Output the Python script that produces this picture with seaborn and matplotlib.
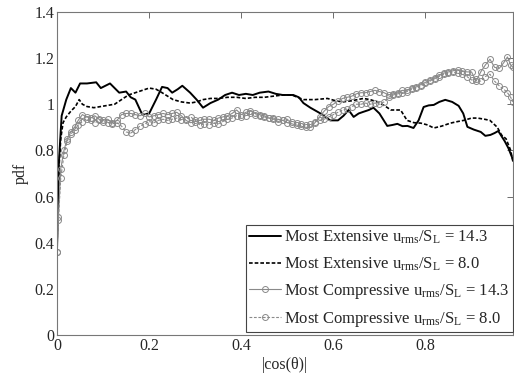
import numpy as np
import pandas as pd
import matplotlib
matplotlib.use("Agg")
import matplotlib.pyplot as plt
import seaborn as sns

# Most Extensive, u_rms/S_L = 14.3
ext14_x = [0, 0.004, 0.01, 0.02, 0.03, 0.04, 0.05, 0.065, 0.085, 0.095,
           0.105, 0.115, 0.125, 0.135, 0.15, 0.16, 0.17, 0.185, 0.2, 0.215,
           0.228, 0.24, 0.25, 0.262, 0.272, 0.289, 0.303, 0.317, 0.333, 0.35,
           0.365, 0.38, 0.395, 0.41, 0.425, 0.44, 0.459, 0.475, 0.49, 0.513,
           0.525, 0.535, 0.55, 0.572, 0.593, 0.61, 0.622, 0.633, 0.644, 0.655,
           0.665, 0.677, 0.687, 0.7, 0.717, 0.728, 0.739, 0.75, 0.761, 0.774,
           0.785, 0.796, 0.807, 0.818, 0.83, 0.843, 0.858, 0.872, 0.882, 0.891,
           0.905, 0.92, 0.93, 0.941, 0.95, 0.958, 0.965, 0.972, 0.98, 0.99]
ext14_y = [0.38, 0.75, 0.95, 1.02, 1.07, 1.05, 1.09, 1.09, 1.095, 1.07,
           1.08, 1.09, 1.07, 1.05, 1.055, 1.03, 1.02, 0.955, 0.96, 1.02,
           1.075, 1.07, 1.05, 1.065, 1.08, 1.05, 1.02, 0.985, 1.005, 1.02,
           1.04, 1.05, 1.04, 1.045, 1.04, 1.05, 1.055, 1.045, 1.04, 1.04,
           1.03, 1.005, 0.985, 0.96, 0.93, 0.93, 0.95, 0.975, 0.945, 0.96,
           0.967, 0.975, 0.985, 0.96, 0.906, 0.91, 0.915, 0.905, 0.906, 0.897,
           0.93, 0.988, 0.995, 0.997, 1.01, 1.019, 1.01, 0.993, 0.96, 0.902,
           0.89, 0.88, 0.863, 0.867, 0.875, 0.884, 0.862, 0.84, 0.81, 0.76]

# Most Extensive, u_rms/S_L = 8.0
ext8_x = [0, 0.004, 0.008, 0.013, 0.02, 0.03, 0.04, 0.048, 0.055, 0.065,
          0.08, 0.095, 0.11, 0.125, 0.14, 0.155, 0.17, 0.185, 0.2, 0.215,
          0.228, 0.24, 0.252, 0.27, 0.289, 0.303, 0.317, 0.333, 0.35, 0.37,
          0.39, 0.41, 0.43, 0.45, 0.47, 0.49, 0.51, 0.535, 0.56, 0.587,
          0.605, 0.62, 0.64, 0.665, 0.68, 0.695, 0.71, 0.725, 0.746, 0.76,
          0.775, 0.79, 0.805, 0.818, 0.835, 0.854, 0.87, 0.883, 0.9, 0.913,
          0.928, 0.94, 0.956, 0.965, 0.975, 0.985, 0.99]
ext8_y = [0.4, 0.72, 0.85, 0.92, 0.945, 0.97, 0.99, 1.02, 1.0, 0.99,
          0.985, 0.99, 0.995, 1.0, 1.02, 1.04, 1.05, 1.06, 1.07, 1.065,
          1.05, 1.035, 1.02, 1.01, 1.005, 1.01, 1.02, 1.025, 1.025, 1.03,
          1.03, 1.025, 1.03, 1.03, 1.035, 1.04, 1.04, 1.02, 1.02, 1.025,
          1.015, 1.01, 1.015, 1.025, 1.02, 1.01, 0.995, 0.975, 0.975, 0.93,
          0.92, 0.918, 0.91, 0.897, 0.905, 0.918, 0.925, 0.93, 0.94, 0.94,
          0.935, 0.93, 0.90, 0.867, 0.85, 0.8, 0.75]

# Most Compressive, both cases share the same bins
comp_x = [0, 0.003, 0.008, 0.015, 0.022, 0.03, 0.038, 0.046, 0.055, 0.064,
          0.073, 0.082, 0.091, 0.1, 0.11, 0.12, 0.13, 0.14, 0.15, 0.16,
          0.17, 0.18, 0.19, 0.2, 0.21, 0.22, 0.23, 0.24, 0.25, 0.26,
          0.27, 0.28, 0.29, 0.3, 0.31, 0.32, 0.33, 0.34, 0.35, 0.36,
          0.37, 0.38, 0.39, 0.4, 0.41, 0.42, 0.43, 0.44, 0.45, 0.46,
          0.47, 0.48, 0.49, 0.5, 0.51, 0.52, 0.53, 0.54, 0.55, 0.56,
          0.57, 0.58, 0.59, 0.6, 0.61, 0.62, 0.63, 0.64, 0.65, 0.66,
          0.67, 0.68, 0.69, 0.7, 0.71, 0.72, 0.73, 0.74, 0.75, 0.76,
          0.77, 0.78, 0.79, 0.8, 0.81, 0.82, 0.83, 0.84, 0.85, 0.86,
          0.87, 0.88, 0.89, 0.9, 0.91, 0.92, 0.93, 0.94, 0.95, 0.96,
          0.97, 0.978, 0.985, 0.99]
comp14_y = [0.36, 0.51, 0.72, 0.8, 0.85, 0.88, 0.9, 0.93, 0.955, 0.945,
            0.94, 0.95, 0.935, 0.93, 0.935, 0.92, 0.93, 0.955, 0.96, 0.96,
            0.955, 0.95, 0.96, 0.945, 0.95, 0.955, 0.96, 0.955, 0.96, 0.965,
            0.95, 0.93, 0.92, 0.925, 0.93, 0.935, 0.935, 0.93, 0.94, 0.945,
            0.95, 0.96, 0.975, 0.955, 0.965, 0.97, 0.96, 0.955, 0.95, 0.94,
            0.935, 0.925, 0.93, 0.92, 0.915, 0.91, 0.905, 0.9, 0.9, 0.92,
            0.945, 0.97, 0.99, 1.0, 1.015, 1.025, 1.03, 1.035, 1.045, 1.05,
            1.05, 1.055, 1.06, 1.055, 1.05, 1.04, 1.045, 1.05, 1.06, 1.06,
            1.07, 1.075, 1.085, 1.095, 1.105, 1.11, 1.125, 1.135, 1.14, 1.145,
            1.15, 1.145, 1.14, 1.14, 1.1, 1.14, 1.17, 1.195, 1.16, 1.155,
            1.18, 1.205, 1.17, 1.16]
comp8_y = [0.36, 0.5, 0.68, 0.78, 0.84, 0.87, 0.89, 0.91, 0.925, 0.935,
           0.93, 0.92, 0.93, 0.925, 0.92, 0.915, 0.92, 0.905, 0.88, 0.875,
           0.89, 0.905, 0.915, 0.925, 0.92, 0.93, 0.935, 0.93, 0.935, 0.94,
           0.93, 0.935, 0.945, 0.93, 0.91, 0.915, 0.91, 0.92, 0.915, 0.925,
           0.935, 0.94, 0.95, 0.945, 0.95, 0.96, 0.955, 0.95, 0.945, 0.94,
           0.94, 0.935, 0.93, 0.935, 0.925, 0.92, 0.915, 0.91, 0.915, 0.925,
           0.93, 0.935, 0.945, 0.955, 0.965, 0.975, 0.98, 0.99, 1.0, 1.0,
           1.005, 1.0, 1.005, 1.0, 1.01, 1.03, 1.04, 1.045, 1.05, 1.055,
           1.065, 1.07, 1.08, 1.09, 1.1, 1.115, 1.12, 1.13, 1.135, 1.14,
           1.135, 1.13, 1.12, 1.105, 1.11, 1.1, 1.12, 1.13, 1.1, 1.08,
           1.065, 1.05, 1.03, 1.01]

labels = [r"Most Extensive u$_{\rm rms}$/S$_{\rm L}$ = 14.3",
          r"Most Extensive u$_{\rm rms}$/S$_{\rm L}$ = 8.0",
          r"Most Compressive u$_{\rm rms}$/S$_{\rm L}$ = 14.3",
          r"Most Compressive u$_{\rm rms}$/S$_{\rm L}$ = 8.0"]
x_ticks = [0, 0.2, 0.4, 0.6, 0.8]
y_ticks = [0, 0.2, 0.4, 0.6, 0.8, 1.0, 1.2, 1.4]

sns.set_style("white")
plt.rcParams['font.family'] = ['Liberation Serif', 'DejaVu Serif']
plt.rcParams['mathtext.fontset'] = 'custom'
plt.rcParams['mathtext.rm'] = 'Liberation Serif'
plt.rcParams['mathtext.it'] = 'Liberation Serif:italic'

fig = plt.figure(figsize=(5.14, 3.77), dpi=100)
ax = fig.add_axes([0.111, 0.1114, 0.887, 0.857])

grey = '#8a8a8a'
sns.lineplot(x=ext14_x, y=ext14_y, ax=ax, color='black', linewidth=1.4,
             estimator=None, label=labels[0])
sns.lineplot(x=ext8_x, y=ext8_y, ax=ax, color='black', linewidth=1.2,
             dashes=False, linestyle=(0, (2.2, 1.2)), estimator=None, label=labels[1])
sns.lineplot(x=comp_x, y=comp14_y, ax=ax, color=grey, linewidth=0.8,
             marker='o', markersize=4.3, markerfacecolor='none',
             markeredgecolor=grey, markeredgewidth=0.7,
             estimator=None, label=labels[2])
sns.lineplot(x=comp_x, y=comp8_y, ax=ax, color=grey, linewidth=0.8,
             linestyle=(0, (2.5, 1.5)), marker='o', markersize=4.3,
             markerfacecolor='none', markeredgecolor=grey, markeredgewidth=0.7,
             estimator=None, label=labels[3])

ax.set_xlim(0, 0.99)
ax.set_ylim(0, 1.4)
ax.set_xticks(x_ticks)
ax.set_yticks(y_ticks)
ax.set_xticklabels(['%g' % t for t in x_ticks])
ax.set_yticklabels(['%g' % t for t in y_ticks])
ax.tick_params(direction='in', top=True, right=True, length=4, width=0.6,
               color='#555555', labelsize=11.5, pad=2)
for s in ax.spines.values():
    s.set_color('#777777')
    s.set_linewidth(0.8)

ax.set_xlabel('|cos(θ)|', fontsize=11.5, labelpad=2)
ax.set_ylabel('pdf', fontsize=11.5, labelpad=4)

leg = ax.legend(loc='lower right', bbox_to_anchor=(1.0, 0.008), fontsize=12,
                frameon=True, fancybox=False, framealpha=1, edgecolor='#444444',
                handlelength=1.9, handletextpad=0.2, borderpad=0.2,
                labelspacing=0.55, borderaxespad=0, numpoints=1)
leg.get_frame().set_linewidth(0.8)

fig.savefig('out.png', dpi=100)
